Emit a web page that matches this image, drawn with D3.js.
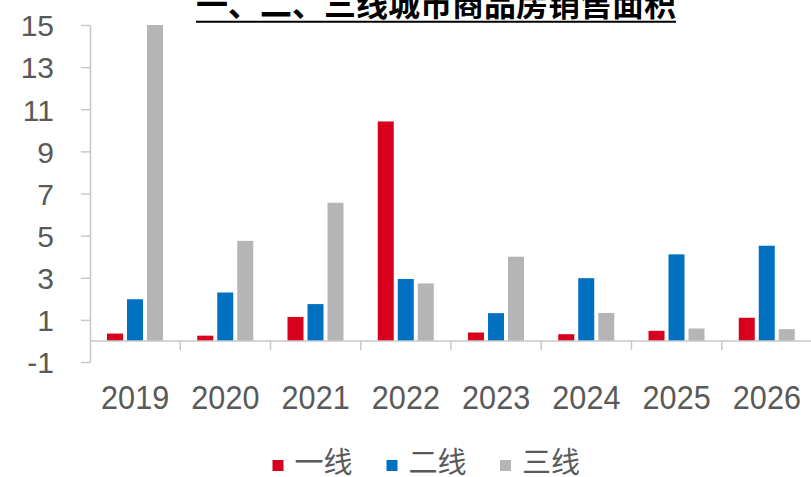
<!DOCTYPE html>
<html>
<head>
<meta charset="utf-8">
<script src="https://cdn.jsdelivr.net/npm/d3@7/dist/d3.min.js"></script>
<style>
  html, body { margin: 0; padding: 0; background: #fff; }
  svg { display: block; }
</style>
</head>
<body>
<svg id="chart" width="811" height="477"></svg>
<script>
// 商品房销售面积 by city tier
const years = ["2019", "2020", "2021", "2022", "2023", "2024", "2025", "2026"];
const seriesNames = ["一线", "二线", "三线"];
const tier1 = [0.35, 0.25, 1.14, 10.42, 0.40, 0.32, 0.48, 1.10];
const tier2 = [1.98, 2.30, 1.75, 2.94, 1.32, 2.98, 4.11, 4.52];
const tier3 = [15.0, 4.75, 6.56, 2.73, 4.00, 1.33, 0.59, 0.56];
const yTicks = [-1, 1, 3, 5, 7, 9, 11, 13, 15];
const colors = ["#d7001d", "#0070c0", "#b5b5b5"];
const titleText = "一、二、三线城市商品房销售面积";

const values = [tier1, tier2, tier3];
const rows = years.map((yr, i) => ({ year: yr, vals: seriesNames.map((s, k) => ({ key: s, value: values[k][i] })) }));

const svg = d3.select("#chart");
const axisColor = "#c8c8c8";
const textColor = "#595959";
const latin = "'Liberation Sans', Arial, sans-serif";
const cjk = "'Noto Sans CJK SC', 'Noto Sans', sans-serif";

const x0 = d3.scaleBand().domain(years).range([90, 812]).paddingInner(0).paddingOuter(0);
const x1 = d3.scaleBand().domain(seriesNames).range([17, 73]).paddingInner(0.2).paddingOuter(0);
const y = d3.scaleLinear().domain([-1, 15]).range([362, 25]);
const color = d3.scaleOrdinal().domain(seriesNames).range(colors);

// Title with underline
svg.append("text")
  .attr("x", 436).attr("y", 16)
  .attr("text-anchor", "middle")
  .attr("font-family", cjk)
  .attr("font-weight", "bold")
  .attr("font-size", 32)
  .attr("fill", "#000")
  .text(titleText);
svg.append("line")
  .attr("x1", 196).attr("x2", 676)
  .attr("y1", 21.7).attr("y2", 21.7)
  .attr("stroke", "#000").attr("stroke-width", 2);

// Y axis
const yAxis = svg.append("g")
  .attr("transform", "translate(90,0)")
  .call(d3.axisLeft(y).tickValues(yTicks).tickSize(9).tickSizeOuter(0).tickPadding(27).tickFormat(d => String(d)));
yAxis.select(".domain").attr("stroke", axisColor).attr("stroke-width", 1.5);
yAxis.selectAll(".tick line").attr("stroke", axisColor).attr("stroke-width", 1.5);
yAxis.selectAll(".tick text")
  .attr("font-family", latin).attr("font-size", 30).attr("fill", textColor)
  .attr("dy", "0.36em");

// Bars
const groups = svg.append("g").selectAll("g")
  .data(rows).join("g")
  .attr("transform", d => `translate(${x0(d.year)},0)`);
groups.selectAll("rect")
  .data(d => d.vals).join("rect")
  .attr("x", d => x1(d.key))
  .attr("width", x1.bandwidth())
  .attr("y", d => y(Math.max(0, d.value)))
  .attr("height", d => Math.abs(y(d.value) - y(0)))
  .attr("fill", d => color(d.key));

// Category axis at zero
const y0 = y(0);
svg.append("line")
  .attr("x1", 90).attr("x2", 812)
  .attr("y1", y0).attr("y2", y0)
  .attr("stroke", axisColor).attr("stroke-width", 1.5);
svg.append("g").selectAll("line")
  .data(years.slice(1)).join("line")
  .attr("x1", d => x0(d)).attr("x2", d => x0(d))
  .attr("y1", y0).attr("y2", y0 + 9)
  .attr("stroke", axisColor).attr("stroke-width", 1.5);

// Year labels
svg.append("g").selectAll("text")
  .data(years).join("text")
  .attr("transform", d => `translate(${x0(d) + x0.bandwidth() / 2},409) scale(0.9,1)`)
  .attr("text-anchor", "middle")
  .attr("font-family", latin).attr("font-size", 34).attr("fill", textColor)
  .text(d => d);

// Legend
const legendX = [272.5, 386.5, 500];
const legend = svg.append("g").selectAll("g")
  .data(seriesNames).join("g")
  .attr("transform", (d, i) => `translate(${legendX[i]},0)`);
legend.append("rect")
  .attr("x", 0).attr("y", 460).attr("width", 11).attr("height", 11)
  .attr("fill", d => color(d));
legend.append("text")
  .attr("x", 22).attr("y", 473)
  .attr("font-family", cjk).attr("font-size", 29).attr("fill", textColor)
  .text(d => d);
</script>
</body>
</html>
